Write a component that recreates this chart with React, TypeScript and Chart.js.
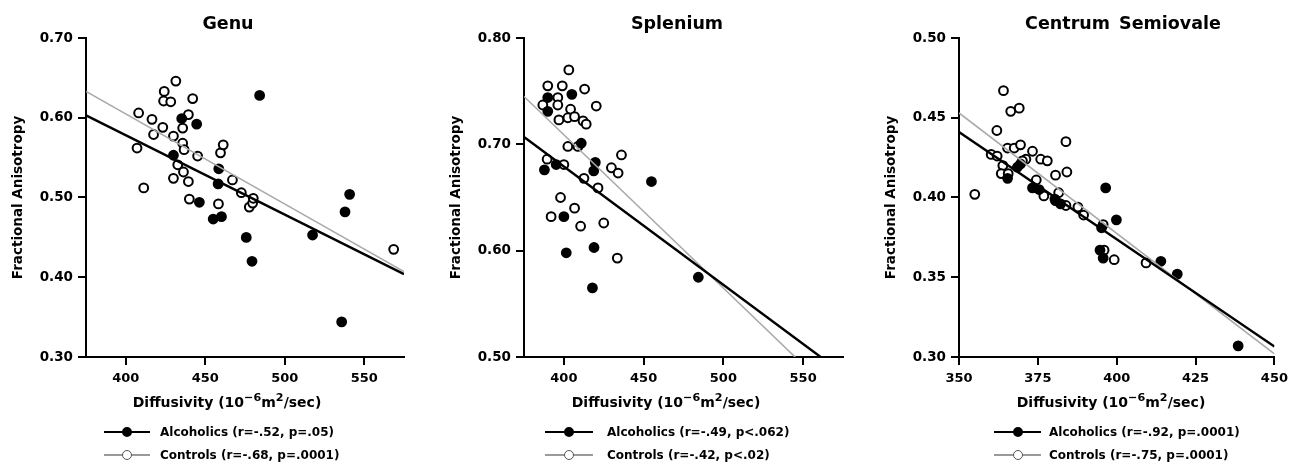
import React, { useEffect, useRef } from "react";
import { Chart, registerables } from "chart.js";

Chart.register(...registerables);

// ---------- Data ----------
// Genu
const genuAlcX = [435.2, 444.6, 430.0, 484.2, 458.5, 458.1, 446.3, 455.0, 460.2, 475.8, 479.4, 517.5, 537.9, 540.8, 535.8];
const genuAlcY = [0.599, 0.592, 0.553, 0.628, 0.536, 0.517, 0.494, 0.473, 0.476, 0.450, 0.420, 0.453, 0.482, 0.504, 0.344];
const genuConX = [408.1, 407.1, 411.3, 416.5, 417.5, 423.3, 424.2, 423.8, 428.3, 431.5, 430.0, 435.8, 439.4, 442.1, 435.8, 436.7, 432.7, 430.0, 436.3, 439.4, 440.0, 445.2, 458.3, 459.6, 461.3, 467.1, 472.7, 477.7, 479.8, 480.2, 568.5];
const genuConY = [0.606, 0.562, 0.512, 0.598, 0.579, 0.588, 0.633, 0.621, 0.620, 0.646, 0.577, 0.587, 0.604, 0.624, 0.568, 0.560, 0.541, 0.524, 0.532, 0.520, 0.498, 0.552, 0.492, 0.556, 0.566, 0.522, 0.506, 0.488, 0.493, 0.499, 0.435];
const genuAlcFitX = [375, 575];
const genuAlcFitY = [0.603, 0.404];
const genuConFitX = [375, 575];
const genuConFitY = [0.633, 0.407];
const genuXTicks = [400, 450, 500, 550];
const genuYTicks = [0.3, 0.4, 0.5, 0.6, 0.7];

// Splenium
const splAlcX = [389.9, 389.9, 405.0, 410.9, 387.8, 395.2, 419.7, 418.7, 400.0, 401.5, 418.9, 417.9, 454.9, 484.3];
const splAlcY = [0.744, 0.731, 0.747, 0.701, 0.676, 0.681, 0.683, 0.675, 0.632, 0.598, 0.603, 0.565, 0.665, 0.575];
const splConX = [403.1, 389.9, 399.0, 413.0, 386.8, 396.2, 396.2, 404.2, 396.9, 402.5, 406.7, 412.0, 414.0, 420.3, 402.5, 408.8, 389.5, 400.0, 412.6, 421.4, 429.8, 434.0, 436.1, 397.9, 392.0, 406.7, 410.5, 425.0, 433.5];
const splConY = [0.770, 0.755, 0.755, 0.752, 0.737, 0.744, 0.737, 0.733, 0.723, 0.725, 0.726, 0.722, 0.719, 0.736, 0.698, 0.698, 0.686, 0.681, 0.668, 0.659, 0.678, 0.673, 0.690, 0.650, 0.632, 0.640, 0.623, 0.626, 0.593];
const splAlcFitX = [375, 561];
const splAlcFitY = [0.707, 0.5];
const splConFitX = [375, 545];
const splConFitY = [0.745, 0.5];
const splXTicks = [400, 450, 500, 550];
const splYTicks = [0.5, 0.6, 0.7, 0.8];

// Centrum Semiovale
const csAlcX = [365.4, 369.5, 368.5, 373.3, 375.4, 380.6, 382.2, 396.5, 399.9, 395.2, 394.7, 395.7, 414.0, 419.2, 438.5];
const csAlcY = [0.412, 0.421, 0.419, 0.406, 0.405, 0.398, 0.396, 0.406, 0.386, 0.381, 0.367, 0.362, 0.360, 0.352, 0.307];
const csConX = [355.0, 364.1, 366.4, 369.1, 362.0, 360.2, 362.1, 365.4, 367.5, 369.5, 363.9, 363.4, 365.6, 373.3, 375.9, 378.0, 371.2, 370.1, 383.9, 380.6, 384.2, 374.5, 376.9, 381.6, 380.4, 383.9, 387.7, 389.5, 395.7, 396.0, 399.2, 409.3];
const csConY = [0.402, 0.467, 0.454, 0.456, 0.442, 0.427, 0.426, 0.431, 0.431, 0.433, 0.420, 0.415, 0.415, 0.429, 0.424, 0.423, 0.424, 0.423, 0.435, 0.414, 0.416, 0.411, 0.401, 0.403, 0.399, 0.395, 0.394, 0.389, 0.383, 0.367, 0.361, 0.359];
const csAlcFitX = [350, 450];
const csAlcFitY = [0.441, 0.3066];
const csConFitX = [350, 450];
const csConFitY = [0.453, 0.302];
const csXTicks = [350, 375, 400, 425, 450];
const csYTicks = [0.3, 0.35, 0.4, 0.45, 0.5];

// Text
const panelTitles = ["Genu", "Splenium", "Centrum Semiovale"];
const alcLabels = ["Alcoholics (r=-.52, p=.05)", "Alcoholics (r=-.49, p<.062)", "Alcoholics (r=-.92, p=.0001)"];
const conLabels = ["Controls (r=-.68, p=.0001)", "Controls (r=-.42, p<.02)", "Controls (r=-.75, p=.0001)"];
const yTitle = "Fractional Anisotropy";

// ---------- Rendering ----------
const FONT = "'DejaVu Sans', Verdana, sans-serif";
const CANVAS_H = 400;

type PanelCfg = {
  left: number;
  width: number;
  plotRight: number;
  xMin: number; xMax: number; yMin: number; yMax: number;
  xTicks: number[]; yTicks: number[];
  alcX: number[]; alcY: number[]; conX: number[]; conY: number[];
  alcFitX: number[]; alcFitY: number[]; conFitX: number[]; conFitY: number[];
  title: string; alcLabel: string; conLabel: string;
  titleCx: number; xTitleCx: number;
  legLineX0: number; legLineX1: number; legTextX: number;
};

const pts = (xs: number[], ys: number[]) => xs.map((x, i) => ({ x, y: ys[i] }));

const panels: PanelCfg[] = [
  {
    left: 0, width: 420, plotRight: 404,
    xMin: 375, xMax: 575, yMin: 0.3, yMax: 0.7,
    xTicks: genuXTicks, yTicks: genuYTicks,
    alcX: genuAlcX, alcY: genuAlcY, conX: genuConX, conY: genuConY,
    alcFitX: genuAlcFitX, alcFitY: genuAlcFitY, conFitX: genuConFitX, conFitY: genuConFitY,
    title: panelTitles[0], alcLabel: alcLabels[0], conLabel: conLabels[0],
    titleCx: 228, xTitleCx: 227, legLineX0: 104, legLineX1: 150, legTextX: 160,
  },
  {
    left: 438, width: 420, plotRight: 843,
    xMin: 375, xMax: 575, yMin: 0.5, yMax: 0.8,
    xTicks: splXTicks, yTicks: splYTicks,
    alcX: splAlcX, alcY: splAlcY, conX: splConX, conY: splConY,
    alcFitX: splAlcFitX, alcFitY: splAlcFitY, conFitX: splConFitX, conFitY: splConFitY,
    title: panelTitles[1], alcLabel: alcLabels[1], conLabel: conLabels[1],
    titleCx: 677, xTitleCx: 666, legLineX0: 545, legLineX1: 593, legTextX: 607,
  },
  {
    left: 873, width: 421, plotRight: 1278,
    xMin: 350, xMax: 450, yMin: 0.3, yMax: 0.5,
    xTicks: csXTicks, yTicks: csYTicks,
    alcX: csAlcX, alcY: csAlcY, conX: csConX, conY: csConY,
    alcFitX: csAlcFitX, alcFitY: csAlcFitY, conFitX: csConFitX, conFitY: csConFitY,
    title: panelTitles[2], alcLabel: alcLabels[2], conLabel: conLabels[2],
    titleCx: 1123, xTitleCx: 1111, legLineX0: 994, legLineX1: 1041, legTextX: 1049,
  },
];

const PLOT_TOP = 38;
const PLOT_BOTTOM = 357;
const Y_AXIS_W = 78;
const X_AXIS_H = 30;
const PAD_LEFT = 8;

function Panel({ cfg }: { cfg: PanelCfg }) {
  const ref = useRef<HTMLCanvasElement | null>(null);

  useEffect(() => {
    if (!ref.current) return;
    const padRight = cfg.left + cfg.width - cfg.plotRight;
    const padBottom = CANVAS_H - PLOT_BOTTOM - X_AXIS_H;
    const chart = new Chart(ref.current, {
      type: "scatter",
      data: {
        datasets: [
          {
            label: "Alcoholics fit",
            data: pts(cfg.alcFitX, cfg.alcFitY),
            showLine: true,
            borderColor: "#000",
            borderWidth: 2.4,
            pointRadius: 0,
            order: 0,
          },
          {
            label: "Controls fit",
            data: pts(cfg.conFitX, cfg.conFitY),
            showLine: true,
            borderColor: "#a9a9a9",
            borderWidth: 1.6,
            pointRadius: 0,
            order: 0,
          },
          {
            label: "Controls",
            data: pts(cfg.conX, cfg.conY),
            pointRadius: 4.4,
            pointBackgroundColor: "#fff",
            pointBorderColor: "#000",
            pointBorderWidth: 2,
            order: 2,
          },
          {
            label: "Alcoholics",
            data: pts(cfg.alcX, cfg.alcY),
            pointRadius: 4.4,
            pointBackgroundColor: "#000",
            pointBorderColor: "#000",
            pointBorderWidth: 2,
            order: 1,
          },
        ],
      },
      options: {
        animation: false,
        responsive: false,
        devicePixelRatio: 1,
        layout: { padding: { left: PAD_LEFT, top: PLOT_TOP, right: padRight, bottom: padBottom } },
        plugins: { legend: { display: false }, tooltip: { enabled: false }, title: { display: false } },
        scales: {
          x: {
            type: "linear",
            min: cfg.xMin,
            max: cfg.xMax,
            afterBuildTicks: (s: any) => { s.ticks = cfg.xTicks.map((v) => ({ value: v })); },
            afterFit: (s: any) => { s.height = X_AXIS_H; },
            grid: { drawOnChartArea: false, drawTicks: true, tickLength: 8, color: "#000", lineWidth: 2 },
            border: { display: true, color: "#000", width: 2 },
            ticks: {
              color: "#000",
              padding: 6,
              font: { family: FONT, size: 13, weight: "bold" },
              callback: (v: any) => String(v),
            },
          },
          y: {
            type: "linear",
            min: cfg.yMin,
            max: cfg.yMax,
            afterBuildTicks: (s: any) => { s.ticks = cfg.yTicks.map((v) => ({ value: v })); },
            afterFit: (s: any) => { s.width = Y_AXIS_W; },
            grid: { drawOnChartArea: false, drawTicks: true, tickLength: 8, color: "#000", lineWidth: 2 },
            border: { display: true, color: "#000", width: 2 },
            ticks: {
              color: "#000",
              padding: 5,
              font: { family: FONT, size: 13.5, weight: "bold" },
              callback: (v: any) => Number(v).toFixed(2),
            },
            title: {
              display: true,
              text: yTitle,
              color: "#000",
              padding: { top: 2, bottom: 0 },
              font: { family: FONT, size: 13.5, weight: "bold" },
            },
          },
        },
      },
    } as any);
    return () => chart.destroy();
  }, [cfg]);

  const rowY = [431.5, 455];
  const lineLen = cfg.legLineX1 - cfg.legLineX0;
  const circleCx = (cfg.legLineX0 + cfg.legLineX1) / 2 - cfg.left;

  return (
    <div style={{ position: "absolute", left: cfg.left, top: 0, width: cfg.width, height: 465 }}>
      <canvas
        ref={ref}
        width={cfg.width}
        height={CANVAS_H}
        style={{ position: "absolute", left: 0, top: 0, width: cfg.width, height: CANVAS_H }}
      />
      <div
        style={{
          position: "absolute", left: cfg.titleCx - cfg.left - 150, width: 300, top: 12,
          textAlign: "center", fontFamily: FONT, fontWeight: "bold", fontSize: 17.5, lineHeight: "22px",
          color: "#000", whiteSpace: "nowrap", wordSpacing: "3px",
        }}
      >
        {cfg.title}
      </div>
      <div
        style={{
          position: "absolute", left: cfg.xTitleCx - cfg.left - 150, width: 300, top: 392,
          textAlign: "center", fontFamily: FONT, fontWeight: "bold", fontSize: 14, lineHeight: "20px",
          color: "#000", whiteSpace: "nowrap",
        }}
      >
        Diffusivity (10
        <span style={{ fontSize: "0.8em", position: "relative", top: "-0.5em" }}>−6</span>
        m
        <span style={{ fontSize: "0.8em", position: "relative", top: "-0.5em" }}>2</span>
        /sec)
      </div>
      {[0, 1].map((r) => {
        const y = rowY[r];
        const alc = r === 0;
        return (
          <React.Fragment key={r}>
            <div
              style={{
                position: "absolute", left: cfg.legLineX0 - cfg.left, width: lineLen,
                top: y - (alc ? 1 : 0.75), height: alc ? 2 : 1.5, background: alc ? "#000" : "#9a9a9a",
              }}
            />
            <div
              style={{
                position: "absolute", left: circleCx - 5, top: y - 5, width: 10, height: 10,
                boxSizing: "border-box", borderRadius: "50%",
                background: alc ? "#000" : "#fff", border: alc ? "2px solid #000" : "1.5px solid #555",
              }}
            />
            <div
              style={{
                position: "absolute", left: cfg.legTextX - cfg.left, top: y - 8, lineHeight: "16px",
                fontFamily: FONT, fontWeight: "bold", fontSize: 12, color: "#000", whiteSpace: "nowrap",
              }}
            >
              {alc ? cfg.alcLabel : cfg.conLabel}
            </div>
          </React.Fragment>
        );
      })}
    </div>
  );
}

export default function App() {
  return (
    <div style={{ position: "absolute", left: 0, top: 0, width: 1294, height: 465, background: "#fff", overflow: "hidden" }}>
      {panels.map((p, i) => (
        <Panel key={i} cfg={p} />
      ))}
    </div>
  );
}
